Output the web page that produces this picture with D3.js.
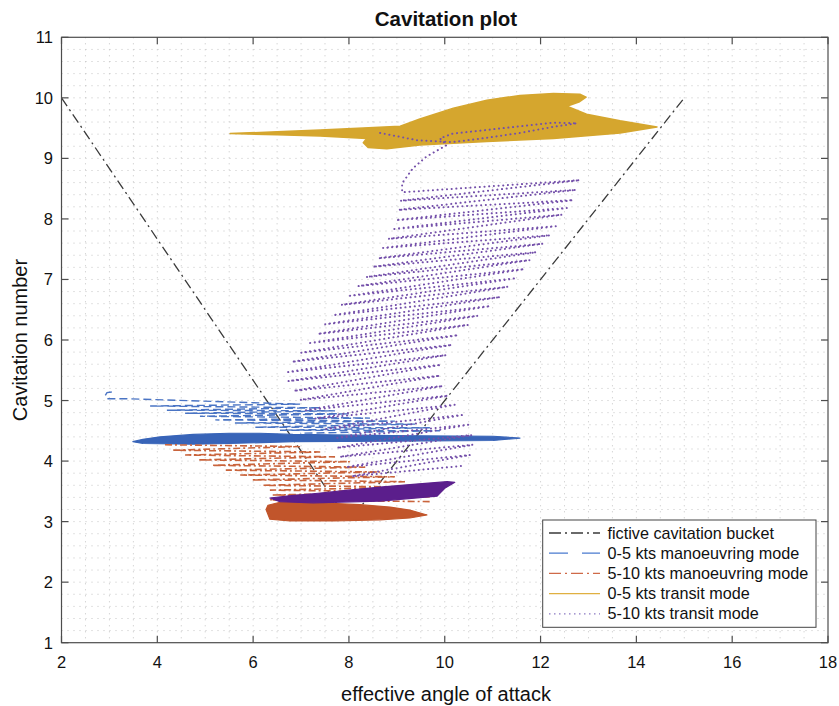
<!DOCTYPE html>
<html>
<head>
<meta charset="utf-8">
<script src="https://cdn.jsdelivr.net/npm/d3@7"></script>
<style>
  body { margin: 0; background: #fff; }
  svg text { font-family: "Liberation Sans", Arial, Helvetica, sans-serif; fill: #111; }
</style>
</head>
<body>
<svg id="chart" width="839" height="706"></svg>
<script>
// ---- axis values ----
const xTickValues = [2, 4, 6, 8, 10, 12, 14, 16, 18];
const yTickValues = [1, 2, 3, 4, 5, 6, 7, 8, 9, 10, 11];

// ---- fictive cavitation bucket (V shape) ----
const bucketPoints = [[2, 10], [8, 3], [15, 10]];

// ---- 0-5 kts manoeuvring mode ----
// sweeps of the trajectory above the main band (turning points)
const manoeuvring05Sweeps = [
  [3.05, 5.14], [2.95, 5.13], [2.91, 5.08], [2.97, 5.03], [3.33, 5.03],
  [6.98, 4.94], [3.85, 4.91], [7.40, 4.88], [4.20, 4.84], [7.71, 4.83],
  [4.58, 4.79], [8.02, 4.78], [4.89, 4.74], [8.44, 4.71], [5.21, 4.68],
  [8.96, 4.66], [5.62, 4.63], [9.38, 4.61], [6.04, 4.56], [9.69, 4.55],
  [6.56, 4.51], [9.90, 4.50], [6.98, 4.46]
];
// outline of the densely overlapping band
const manoeuvring05Band = [
  [3.49, 4.32], [3.70, 4.36], [4.06, 4.40], [4.75, 4.44], [5.50, 4.46],
  [6.14, 4.46], [6.83, 4.44], [8.92, 4.42], [11.01, 4.41], [11.57, 4.38],
  [11.01, 4.34], [8.92, 4.33], [6.83, 4.32], [5.50, 4.29], [4.75, 4.28],
  [3.70, 4.29]
];

// ---- 5-10 kts manoeuvring mode ----
const manoeuvring510Sweeps = [
  [4.16, 4.27], [6.98, 4.24], [4.31, 4.18], [7.40, 4.15], [4.58, 4.10],
  [7.71, 4.07], [4.85, 4.02], [8.02, 3.99], [5.14, 3.93], [8.34, 3.90],
  [5.43, 3.85], [8.65, 3.82], [5.73, 3.77], [8.96, 3.74], [5.98, 3.69],
  [9.17, 3.66], [6.19, 3.60], [9.38, 3.57], [6.35, 3.52], [9.53, 3.49],
  [6.39, 3.44], [9.69, 3.41], [6.35, 3.36], [9.73, 3.33]
];
const manoeuvring510Band = [
  [6.27, 3.20], [6.31, 3.27], [6.56, 3.32], [7.40, 3.31], [8.23, 3.28],
  [8.86, 3.24], [9.27, 3.19], [9.63, 3.11], [9.27, 3.06], [8.65, 3.03],
  [7.69, 3.01], [6.77, 3.01], [6.35, 3.04]
];

// ---- 0-5 kts transit mode (dense envelope) ----
const transit05Envelope = [
  [5.52, 9.41], [6.50, 9.44], [7.40, 9.47], [8.30, 9.50], [9.07, 9.53],
  [9.48, 9.65], [10.18, 9.83], [10.88, 9.96], [11.57, 10.04], [12.27, 10.07],
  [12.82, 10.06], [12.95, 10.01], [12.80, 9.93], [12.55, 9.86], [12.96, 9.73],
  [13.66, 9.62], [14.43, 9.52], [13.66, 9.42], [12.27, 9.33], [10.88, 9.28],
  [9.48, 9.22], [8.79, 9.16], [8.40, 9.18], [8.30, 9.26], [8.37, 9.33],
  [7.40, 9.37], [6.50, 9.39]
];

// ---- 5-10 kts transit mode ----
// high-speed loop and descent from it
const transit510Top = [
  [8.65, 9.42], [9.42, 9.30], [10.17, 9.27], [10.88, 9.34], [11.57, 9.42],
  [12.26, 9.52], [12.76, 9.58], [12.26, 9.59], [11.57, 9.53], [10.88, 9.47],
  [10.17, 9.41], [9.90, 9.33], [10.04, 9.22], [9.62, 9.03], [9.34, 8.84],
  [9.11, 8.59]
];
// sweeps: [x left, y left, x right, y right]
const transit510Rows = [
  [9.11, 8.44, 12.82, 8.64], [9.07, 8.30, 12.74, 8.48], [9.03, 8.15, 12.68, 8.31],
  [8.98, 7.98, 12.55, 8.18], [8.90, 7.83, 12.45, 8.07], [8.82, 7.67, 12.32, 7.88],
  [8.71, 7.52, 12.20, 7.73], [8.61, 7.35, 12.05, 7.59], [8.50, 7.21, 11.91, 7.45],
  [8.36, 7.04, 11.78, 7.32], [8.19, 6.89, 11.66, 7.17], [8.02, 6.73, 11.49, 7.02],
  [7.84, 6.58, 11.32, 6.88], [7.67, 6.41, 11.16, 6.71], [7.50, 6.26, 10.95, 6.56],
  [7.35, 6.10, 10.69, 6.40], [7.19, 5.95, 10.49, 6.25], [7.00, 5.79, 10.28, 6.08],
  [6.81, 5.64, 10.15, 5.92], [6.73, 5.47, 10.03, 5.75], [6.73, 5.32, 9.92, 5.59],
  [6.85, 5.16, 9.90, 5.41], [6.98, 5.01, 9.96, 5.24], [7.10, 4.84, 10.07, 5.08],
  [7.29, 4.70, 10.21, 4.93], [7.52, 4.53, 10.36, 4.76], [7.71, 4.38, 10.49, 4.60],
  [7.75, 4.22, 10.57, 4.43], [7.81, 4.07, 10.59, 4.27], [7.94, 3.90, 10.53, 4.10],
  [8.06, 3.75, 10.36, 3.92]
];
const transit510Band = [
  [6.35, 3.39], [6.80, 3.43], [7.25, 3.46], [8.00, 3.52], [8.65, 3.57],
  [9.40, 3.62], [10.05, 3.66], [10.21, 3.65], [10.00, 3.55], [9.84, 3.42],
  [8.65, 3.34], [7.25, 3.31], [6.56, 3.33]
];

const legendLabels = [
  "fictive cavitation bucket",
  "0-5 kts manoeuvring mode",
  "5-10 kts manoeuvring mode",
  "0-5 kts transit mode",
  "5-10 kts transit mode"
];

// ---- layout ----
const plot = { left: 61.5, top: 37.3, right: 828, bottom: 642.7 };
const svg = d3.select("#chart");

const x = d3.scaleLinear().domain([2, 18]).range([plot.left, plot.right]);
const y = d3.scaleLinear().domain([1, 11]).range([plot.bottom, plot.top]);

const colors = {
  bucket: "#3a3a3a",
  blue: "#3864b8",
  blueLine: "#4a74c4",
  orange: "#c1552b",
  orangeLine: "#c9643c",
  gold: "#d5a62e",
  purpleDot: "#7450aa",
  purpleBand: "#5b1e8c"
};

// ---- minor dotted grid ----
const gridG = svg.append("g");
const gx = d3.range(2.5, 18, 0.5);
const gy = d3.range(1.2, 10.95, 0.2);
gridG.selectAll("line.gx").data(gx).join("line")
  .attr("x1", d => x(d)).attr("x2", d => x(d))
  .attr("y1", plot.top).attr("y2", plot.bottom)
  .attr("stroke", "#c4c4c4").attr("stroke-width", 1)
  .attr("stroke-dasharray", "1 5");
gridG.selectAll("line.gy").data(gy).join("line")
  .attr("y1", d => y(d)).attr("y2", d => y(d))
  .attr("x1", plot.left).attr("x2", plot.right)
  .attr("stroke", "#c4c4c4").attr("stroke-width", 1)
  .attr("stroke-dasharray", "1 5");

const line = d3.line().x(d => x(d[0])).y(d => y(d[1]));
const closed = d3.line().x(d => x(d[0])).y(d => y(d[1])).curve(d3.curveLinearClosed);
const plotG = svg.append("g");

// fictive cavitation bucket
plotG.append("path").datum(bucketPoints)
  .attr("d", line).attr("fill", "none")
  .attr("stroke", colors.bucket).attr("stroke-width", 1.3)
  .attr("stroke-dasharray", "10 4 2 4");

// 0-5 kts manoeuvring
plotG.append("path").datum(manoeuvring05Sweeps)
  .attr("d", line).attr("fill", "none")
  .attr("stroke", colors.blueLine).attr("stroke-width", 1.4)
  .attr("stroke-dasharray", "8 4");
plotG.append("path").datum(manoeuvring05Band)
  .attr("d", closed).attr("fill", colors.blue)
  .attr("stroke", colors.blue).attr("stroke-width", 1.2).attr("stroke-linejoin", "round");

// 5-10 kts manoeuvring
plotG.append("path").datum(manoeuvring510Sweeps)
  .attr("d", line).attr("fill", "none")
  .attr("stroke", colors.orangeLine).attr("stroke-width", 1.6)
  .attr("stroke-dasharray", "7 3 2 3");
plotG.append("path").datum(manoeuvring510Band)
  .attr("d", closed).attr("fill", colors.orange)
  .attr("stroke", colors.orange).attr("stroke-width", 1.2).attr("stroke-linejoin", "round");

// 0-5 kts transit
plotG.append("path").datum(transit05Envelope)
  .attr("d", closed).attr("fill", colors.gold)
  .attr("stroke", colors.gold).attr("stroke-width", 1.5).attr("stroke-linejoin", "round");

// 5-10 kts transit: loops drawn as dotted sweeps
const sweepPoints = transit510Top.concat(
  transit510Rows.flatMap(r => [[r[0], r[1]], [r[2], r[3]]])
);
plotG.append("path").datum(sweepPoints)
  .attr("d", line).attr("fill", "none")
  .attr("stroke", colors.purpleDot).attr("stroke-width", 2)
  .attr("stroke-linecap", "round")
  .attr("stroke-dasharray", "0.1 4.6");
plotG.append("path").datum(transit510Band)
  .attr("d", closed).attr("fill", colors.purpleBand)
  .attr("stroke", colors.purpleBand).attr("stroke-width", 1.2).attr("stroke-linejoin", "round");

// ---- axes box and ticks ----
const axisColor = "#4d4d4d";
svg.append("rect")
  .attr("x", plot.left).attr("y", plot.top)
  .attr("width", plot.right - plot.left).attr("height", plot.bottom - plot.top)
  .attr("fill", "none").attr("stroke", axisColor).attr("stroke-width", 1.2);

const tickLen = 7;
const tickG = svg.append("g").attr("stroke", axisColor).attr("stroke-width", 1.2);
xTickValues.forEach(v => {
  tickG.append("line").attr("x1", x(v)).attr("x2", x(v)).attr("y1", plot.bottom).attr("y2", plot.bottom - tickLen);
  tickG.append("line").attr("x1", x(v)).attr("x2", x(v)).attr("y1", plot.top).attr("y2", plot.top + tickLen);
});
yTickValues.forEach(v => {
  tickG.append("line").attr("y1", y(v)).attr("y2", y(v)).attr("x1", plot.left).attr("x2", plot.left + tickLen);
  tickG.append("line").attr("y1", y(v)).attr("y2", y(v)).attr("x1", plot.right).attr("x2", plot.right - tickLen);
});

svg.append("g").selectAll("text").data(xTickValues).join("text")
  .attr("x", d => x(d)).attr("y", 668)
  .attr("text-anchor", "middle").attr("font-size", 16.5)
  .text(d => d);
svg.append("g").selectAll("text").data(yTickValues).join("text")
  .attr("x", 53).attr("y", d => y(d) + 6)
  .attr("text-anchor", "end").attr("font-size", 16.5)
  .text(d => d);

// ---- titles ----
svg.append("text").attr("x", 446).attr("y", 26)
  .attr("text-anchor", "middle").attr("font-size", 20.5).attr("font-weight", "bold")
  .text("Cavitation plot");
svg.append("text").attr("x", 446).attr("y", 701)
  .attr("text-anchor", "middle").attr("font-size", 20)
  .text("effective angle of attack");
svg.append("text")
  .attr("transform", `translate(26.5, ${(plot.top + plot.bottom) / 2}) rotate(-90)`)
  .attr("text-anchor", "middle").attr("font-size", 20)
  .text("Cavitation number");

// ---- legend ----
const legend = svg.append("g");
legend.append("rect")
  .attr("x", 542.7).attr("y", 520).attr("width", 273.3).attr("height", 107.3)
  .attr("fill", "#fff").attr("stroke", "#444").attr("stroke-width", 1);
const legendStyles = [
  { color: colors.bucket, dash: "12 4 2 4", width: 1.3 },
  { color: "#4a7bd0", dash: "19 14", width: 1.3 },
  { color: "#cf6a48", dash: "12 4 2 4", width: 1.3 },
  { color: "#e0b040", dash: null, width: 1.3 },
  { color: "#8b78c2", dash: "1.5 3.5", width: 1.3 }
];
legendLabels.forEach((label, i) => {
  const base = 538.5 + i * 20.2;
  const st = legendStyles[i];
  const l = legend.append("line")
    .attr("x1", 549).attr("x2", 600).attr("y1", base - 5.5).attr("y2", base - 5.5)
    .attr("stroke", st.color).attr("stroke-width", st.width);
  if (st.dash) l.attr("stroke-dasharray", st.dash);
  legend.append("text").attr("x", 607.5).attr("y", base)
    .attr("font-size", 16.2).text(label);
});
</script>
</body>
</html>
